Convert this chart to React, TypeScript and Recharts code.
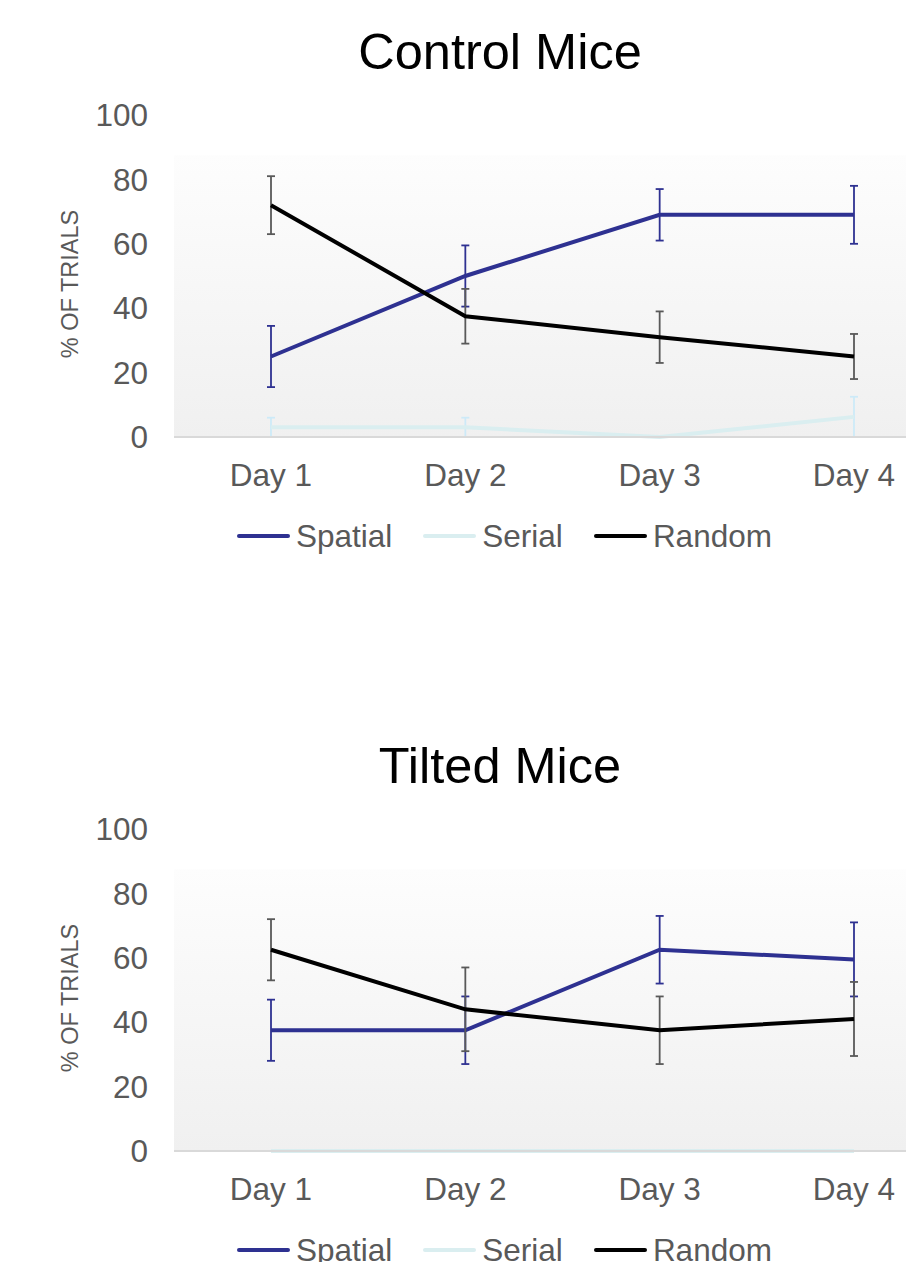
import React from 'react';
import { LineChart, Line, XAxis, YAxis, ErrorBar, ReferenceArea } from 'recharts';

const days = ['Day 1', 'Day 2', 'Day 3', 'Day 4'];
const yTicks = [0, 20, 40, 60, 80, 100];

// Control mice
const controlSpatial = [25, 50, 69, 69];
const controlSpatialErr = [9.5, 9.5, 8, 9];
const controlSerial = [3, 3, 0, 6.25];
const controlSerialErr = [3, 3, 0, 6.25];
const controlRandom = [72, 37.5, 31, 25];
const controlRandomErr = [9, 8.5, 8, 7];

// Tilted mice
const tiltedSpatial = [37.5, 37.5, 62.5, 59.5];
const tiltedSpatialErr = [9.5, 10.5, 10.5, 11.5];
const tiltedSerial = [0, 0, 0, 0];
const tiltedSerialErr = [0, 0, 0, 0];
const tiltedRandom = [62.5, 44, 37.5, 41];
const tiltedRandomErr = [9.5, 13, 10.5, 11.5];

// top of the shaded plot area (in axis units)
const plotTop = 87.5;
const lastIdx = days.length - 1;

const series = [
  { key: 'spatial', name: 'Spatial', color: '#2E3191', errColor: '#2E3191' },
  { key: 'serial', name: 'Serial', color: '#DAEEF0', errColor: '#CDEAF8' },
  { key: 'random', name: 'Random', color: '#000000', errColor: '#595959' },
];

const font = '"Liberation Sans", Arial, sans-serif';

type PanelProps = {
  id: string;
  title: string;
  top: number;
  spatial: number[];
  spatialErr: number[];
  serial: number[];
  serialErr: number[];
  random: number[];
  randomErr: number[];
};

const YLabel = (props: any) => {
  const { viewBox } = props;
  const cx = 70;
  const cy = viewBox.y + viewBox.height / 2 + 8;
  return (
    <text
      x={cx}
      y={cy}
      transform={`rotate(-90 ${cx} ${cy})`}
      textAnchor="middle"
      dominantBaseline="central"
      fill="#595959"
      fontSize={23.5}
    >
      % OF TRIALS
    </text>
  );
};

const Panel = (p: PanelProps) => {
  const data = days.map((day, i) => ({
    day,
    spatial: p.spatial[i],
    spatialErr: p.spatialErr[i],
    serial: p.serial[i],
    serialErr: p.serialErr[i],
    random: p.random[i],
    randomErr: p.randomErr[i],
  }));

  return (
    <div style={{ position: 'absolute', left: 0, top: p.top, width: 1000, height: 714 }}>
      <div
        style={{
          position: 'absolute',
          left: 0,
          top: 25,
          width: 1000,
          textAlign: 'center',
          fontSize: 50.5,
          lineHeight: '54px',
          color: '#000',
          fontFamily: font,
        }}
      >
        {p.title}
      </div>
      <div style={{ position: 'absolute', left: 0, top: 0 }}>
        <LineChart
          width={1000}
          height={497}
          data={data}
          margin={{ top: 115, right: 49, left: 30, bottom: 0 }}
          style={{ fontFamily: font }}
        >
          <defs>
            <linearGradient id={`bg-${p.id}`} x1="0" y1="0" x2="0" y2="1">
              <stop offset="0%" stopColor="#FDFDFD" />
              <stop offset="100%" stopColor="#F0F0F0" />
            </linearGradient>
          </defs>
          <XAxis xAxisId="bg" type="number" domain={[0, lastIdx]} allowDataOverflow hide />
          <ReferenceArea
            xAxisId="bg"
            x1={0}
            x2={lastIdx}
            y1={0}
            y2={plotTop}
            fill={`url(#bg-${p.id})`}
            fillOpacity={1}
            stroke="none"
            ifOverflow="visible"
          />
          <XAxis
            dataKey="day"
            height={60}
            padding={{ left: 97, right: 97 }}
            axisLine={{ stroke: '#D9D9D9', strokeWidth: 2 }}
            tickLine={false}
            tickSize={6}
            tickMargin={21}
            tick={{ fill: '#595959', fontSize: 31.5 }}
          />
          <YAxis
            domain={[0, 100]}
            ticks={yTicks}
            width={144}
            axisLine={false}
            tickLine={false}
            tickSize={6}
            tickMargin={20}
            tick={{ fill: '#595959', fontSize: 31.5 }}
            label={<YLabel />}
          />
          {series.map((s) => (
            <Line
              key={s.key}
              type="linear"
              dataKey={s.key}
              stroke={s.color}
              strokeWidth={4}
              dot={false}
              activeDot={false}
              isAnimationActive={false}
            >
              <ErrorBar dataKey={`${s.key}Err`} width={4} strokeWidth={1.8} stroke={s.errColor} />
            </Line>
          ))}
        </LineChart>
      </div>
      <div
        style={{
          position: 'absolute',
          left: 237,
          top: 517,
          display: 'flex',
          alignItems: 'center',
          fontFamily: font,
          fontSize: 31.5,
          color: '#595959',
          lineHeight: '38px',
        }}
      >
        {series.map((s) => (
          <div key={s.key} style={{ display: 'flex', alignItems: 'center', marginRight: 31 }}>
            <div style={{ width: 53, height: 4, background: s.color, borderRadius: 2, marginRight: 6 }} />
            <span>{s.name}</span>
          </div>
        ))}
      </div>
    </div>
  );
};

export default function App() {
  return (
    <div
      style={{
        position: 'absolute',
        left: 0,
        top: 0,
        width: 906,
        height: 1262,
        overflow: 'hidden',
        background: '#fff',
      }}
    >
      <Panel
        id="control"
        title="Control Mice"
        top={0}
        spatial={controlSpatial}
        spatialErr={controlSpatialErr}
        serial={controlSerial}
        serialErr={controlSerialErr}
        random={controlRandom}
        randomErr={controlRandomErr}
      />
      <Panel
        id="tilted"
        title="Tilted Mice"
        top={714}
        spatial={tiltedSpatial}
        spatialErr={tiltedSpatialErr}
        serial={tiltedSerial}
        serialErr={tiltedSerialErr}
        random={tiltedRandom}
        randomErr={tiltedRandomErr}
      />
    </div>
  );
}
